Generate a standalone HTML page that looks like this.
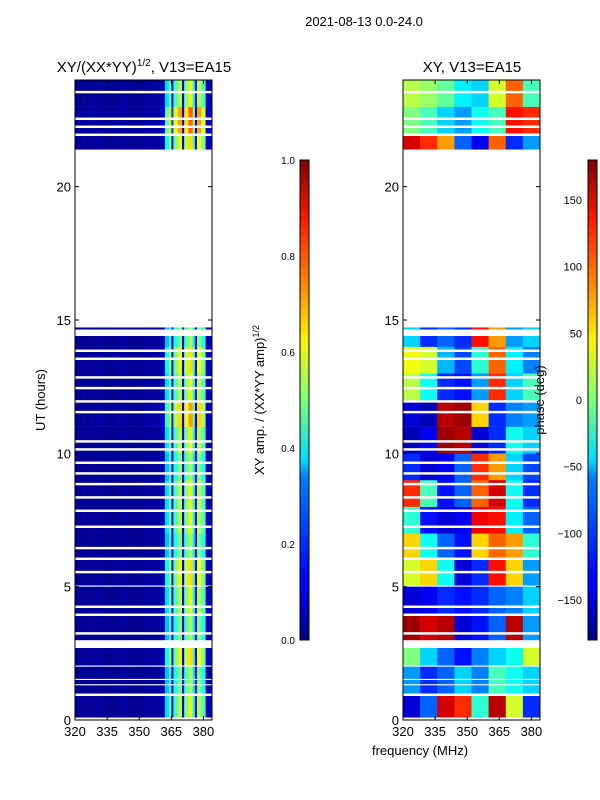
<!DOCTYPE html>
<html><head><meta charset="utf-8">
<style>
html,body{margin:0;padding:0;background:#fff;}
svg{display:block;font-family:"Liberation Sans","DejaVu Sans",sans-serif;}
</style></head>
<body>
<svg id="chart" width="600" height="800" viewBox="0 0 600 800">
<defs>
<linearGradient id="jet" x1="0" y1="1" x2="0" y2="0">
<stop offset="0" stop-color="#00007f"/><stop offset="0.11" stop-color="#0000ff"/>
<stop offset="0.125" stop-color="#0000ff"/><stop offset="0.34" stop-color="#0080ff"/>
<stop offset="0.375" stop-color="#00dcfe"/><stop offset="0.5" stop-color="#7dff7a"/>
<stop offset="0.625" stop-color="#faf205"/><stop offset="0.75" stop-color="#ff8000"/>
<stop offset="0.875" stop-color="#ff1a00"/><stop offset="1" stop-color="#7f0000"/>
</linearGradient>
</defs>
<text x="364" y="26" font-size="13" text-anchor="middle">2021-08-13 0.0-24.0</text>
<text x="144" y="72" font-size="15" text-anchor="middle">XY/(XX*YY)<tspan font-size="10" dy="-6">1/2</tspan><tspan dy="6">, V13=EA15</tspan></text>
<text x="472" y="72" font-size="15" text-anchor="middle">XY, V13=EA15</text>
<g id="left"></g>
<g id="right"></g>
<g id="axes"></g>
<text transform="translate(45,400) rotate(-90)" font-size="13" text-anchor="middle">UT (hours)</text>
<text x="420" y="755" font-size="13" text-anchor="middle">frequency (MHz)</text>
<rect x="300" y="160" width="9" height="480" fill="url(#jet)" stroke="#000" stroke-width="1"/>
<rect x="588" y="160" width="9" height="480" fill="url(#jet)" stroke="#000" stroke-width="1"/>
<text transform="translate(264,400) rotate(-90)" font-size="13" text-anchor="middle">XY amp. / (XX*YY amp)<tspan font-size="9" dy="-5">1/2</tspan></text>
<text transform="translate(544,400) rotate(-90)" font-size="13" text-anchor="middle">phase (deg)</text>
</svg>
<script>
const ampFreqEdges=[320,324,328,332,336,340,344,348,352,356,360,362,364,365,366,368,370,371,373,375,376,377,379,381,384];
const ampValues=[0.02,0.02,0.03,0.02,0.02,0.03,0.02,0.02,0.03,0.03,0.06,0.35,0.5,0.15,0.45,0.55,0.1,0.5,0.6,0.4,0.1,0.55,0.45,0.06];
const hourAmpScale=[1,0.9,1.1,0.9,1,1.1,0.9,1,1,0.9,1,1.2,1,1.1,0.9,1,1,1,1,1,1,1.1,1.3,1];
const validSegments=[[0.1,0.9],[1.0,1.3],[1.35,1.5],[1.55,2.0],[2.05,2.7],[3.0,3.2],[3.3,3.9],[4.0,4.2],[4.3,5.0],[5.05,5.5],[5.6,6.0],[6.1,6.4],[6.5,7.2],[7.3,7.8],[7.9,8.3],[8.4,8.8],[8.9,9.2],[9.3,9.6],[9.7,10.1],[10.2,10.4],[10.5,11.5],[11.6,11.9],[12.0,12.4],[12.5,12.8],[12.9,13.5],[13.6,13.8],[13.9,14.4],[14.65,14.72],[21.4,21.9],[22.0,22.2],[22.3,22.5],[22.6,23.5],[23.6,24]];
const phaseFreqEdges=[320,328,336,344,352,360,368,376,384];
const phaseHours=[0,1,2,3,4,5,6,7,8,9,10,11,12,13,14,21,22,23];
const phaseRows=[
[-150,-100,150,120,-30,160,30,-120],
[-80,-120,-100,-60,-90,-20,-40,-60],
[0,-60,-100,-130,-90,-60,-40,30],
[170,150,160,-150,-130,-100,160,-80],
[-150,-140,-120,-130,-120,-100,-90,-60],
[30,60,-40,-150,-120,130,60,-80],
[60,-40,-100,-130,60,100,80,-30],
[-30,-130,-150,-140,140,130,-50,-100],
[120,-20,-130,-100,100,150,-40,-120],
[-120,-150,-140,-100,120,80,-60,-110],
[-160,-140,170,160,-150,-120,-40,-60],
[-150,-160,160,170,60,-120,-90,-80],
[20,-40,-120,-130,-80,120,-60,-20],
[40,30,-70,-110,-30,100,-50,-90],
[-60,-120,-100,-120,130,80,-80,-60],
[150,120,80,-100,-140,100,-120,-80],
[0,-20,-60,-80,-40,-20,130,120],
[20,10,-10,-50,-60,30,100,-20]];
const xTicks=[320,335,350,365,380];
const yTicks=[0,5,10,15,20];
const ampCbTicks=[0,0.2,0.4,0.6,0.8,1.0];
const phaseCbTicks=[-150,-100,-50,0,50,100,150];

const NS="http://www.w3.org/2000/svg";
const TOP=80,BOT=720;
const yS=h=>BOT-(h/24)*(BOT-TOP);
const xL=f=>75+(f-320)/64*137;
const xR=f=>403+(f-320)/64*137;
function jet(v){v=Math.max(0,Math.min(1,v));
 const r=Math.max(0,Math.min(1,1.5-Math.abs(4*v-3))),g=Math.max(0,Math.min(1,1.5-Math.abs(4*v-2))),b=Math.max(0,Math.min(1,1.5-Math.abs(4*v-1)));
 return `rgb(${Math.round(r*255)},${Math.round(g*255)},${Math.round(b*255)})`;}
function mk(tag,attrs,parent){const e=document.createElementNS(NS,tag);for(const k in attrs)e.setAttribute(k,attrs[k]);parent.appendChild(e);return e;}
const L=document.getElementById('left'),R=document.getElementById('right'),A=document.getElementById('axes');
validSegments.forEach(seg=>{
 for(let h=Math.floor(seg[0]);h<seg[1];h++){
  const a=Math.max(seg[0],h),b=Math.min(seg[1],h+1);if(b<=a)continue;
  const y1=yS(b),y2=yS(a);
  for(let i=0;i<ampValues.length;i++){
   const r=mk('rect',{x:xL(ampFreqEdges[i]),y:y1,width:xL(ampFreqEdges[i+1])-xL(ampFreqEdges[i])+0.3,height:y2-y1+0.2,fill:jet(ampValues[i]*hourAmpScale[h])},L);
   
   
  }
  const pi=phaseHours.indexOf(h);
  if(pi<0)continue;
  const row=phaseRows[pi];
  for(let i=0;i<row.length;i++){
   const r=mk('rect',{x:xR(phaseFreqEdges[i]),y:y1,width:xR(phaseFreqEdges[i+1])-xR(phaseFreqEdges[i])+0.3,height:y2-y1+0.2,fill:jet((row[i]+180)/360)},R);
   
   
  }
 }
});
[[75,xL,'left'],[403,xR,'right']].forEach(([x0,xf,nm])=>{
 const f=mk('rect',{x:x0,y:TOP,width:137,height:BOT-TOP,fill:'none',stroke:'#000','stroke-width':1},A);
 
 
 xTicks.forEach(t=>{const x=xf(t);
  mk('line',{x1:x,x2:x,y1:BOT,y2:BOT-4,stroke:'#000'},A);mk('line',{x1:x,x2:x,y1:TOP,y2:TOP+4,stroke:'#000'},A);
  const tx=mk('text',{x:x,y:BOT+16,'font-size':13,'text-anchor':'middle'},A);tx.textContent=t;
  
  });
 yTicks.forEach(t=>{const y=yS(t);
  mk('line',{x1:x0,x2:x0+4,y1:y,y2:y,stroke:'#000'},A);mk('line',{x1:x0+137,x2:x0+133,y1:y,y2:y,stroke:'#000'},A);
  const tx=mk('text',{x:x0-4,y:y+5,'font-size':13,'text-anchor':'end'},A);tx.textContent=t;
  
  });
});
ampCbTicks.forEach(t=>{const y=640-t*480;
 mk('line',{x1:300,x2:304,y1:y,y2:y,stroke:'#000'},A);mk('line',{x1:309,x2:305,y1:y,y2:y,stroke:'#000'},A);
 const tx=mk('text',{x:295,y:y+4,'font-size':10,'text-anchor':'end'},A);tx.textContent=t.toFixed(1);
 
 });
phaseCbTicks.forEach(t=>{const y=640-(t+180)/360*480;
 mk('line',{x1:588,x2:592,y1:y,y2:y,stroke:'#000'},A);mk('line',{x1:597,x2:593,y1:y,y2:y,stroke:'#000'},A);
 const tx=mk('text',{x:582,y:y+4,'font-size':11,'text-anchor':'end'},A);tx.textContent=t<0?'\u2212'+(-t):t;
 
 });
</script>
</body></html>
